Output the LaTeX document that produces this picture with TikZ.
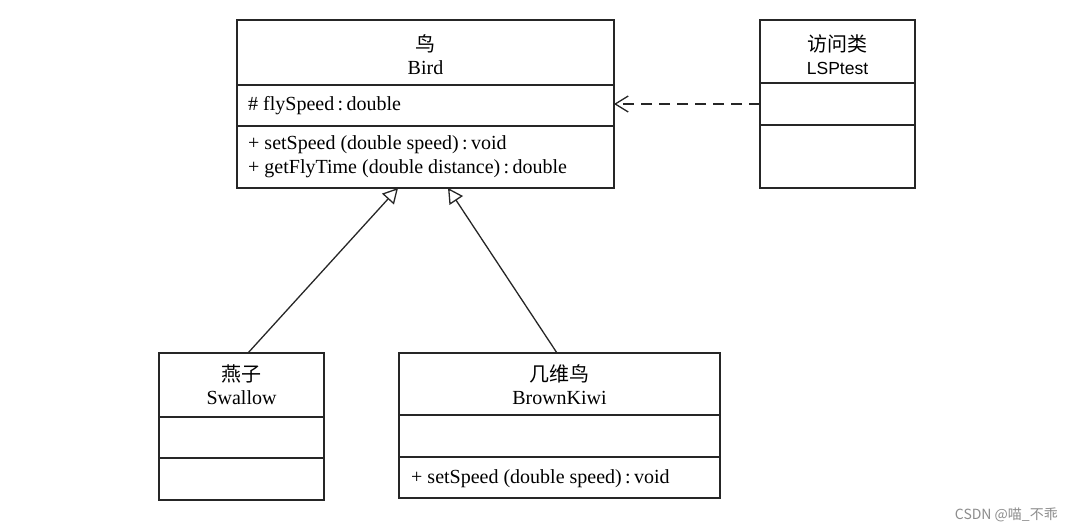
\documentclass[tikz,border=0pt]{standalone}
\usepackage{fontspec}
\setmainfont{Liberation Serif}
\newfontfamily\cjk{Noto Sans CJK SC}
\newfontfamily\arialish{Liberation Sans}
\usetikzlibrary{arrows.meta}

\tikzset{
    classbox/.style={draw=black!85, line width=1.3pt, fill=none, inner sep=0pt, outer sep=0pt, anchor=north west},
    divider/.style={draw=black!85, line width=1.3pt},
    title/.style={align=center, font=\fontsize{20}{23}\selectfont, inner sep=0pt},
    member/.style={anchor=west, font=\fontsize{20}{24}\selectfont, inner sep=0pt},
    inherit/.style={draw=black!85, line width=1.3pt, -{Triangle[open, length=15pt, width=16pt, line width=1.3pt]}},
    uses/.style={draw=black!85, line width=1.3pt, dash pattern=on 11pt off 7pt, -{Straight Barb[length=13pt, width=16pt, line width=1.3pt]}}
}

\begin{document}
\begin{tikzpicture}[x=1pt, y=-1pt]

    % Fix the page to the size of the reference
    \useasboundingbox (0,0) rectangle (1073,532);

    % The four class boxes
    \node[classbox, minimum width=377, minimum height=168] (bird) at (237,20) {};
    \node[classbox, minimum width=155, minimum height=168] (lsp) at (760,20) {};
    \node[classbox, minimum width=165, minimum height=147] (swallow) at (159,353) {};
    \node[classbox, minimum width=321, minimum height=145] (kiwi) at (399,353) {};

    % Compartment lines
    \draw[divider] (bird.west |- 0,85) -- (bird.east |- 0,85);
    \draw[divider] (bird.west |- 0,126) -- (bird.east |- 0,126);
    \draw[divider] (lsp.west |- 0,83) -- (lsp.east |- 0,83);
    \draw[divider] (lsp.west |- 0,125) -- (lsp.east |- 0,125);
    \draw[divider] (swallow.west |- 0,417) -- (swallow.east |- 0,417);
    \draw[divider] (swallow.west |- 0,458) -- (swallow.east |- 0,458);
    \draw[divider] (kiwi.west |- 0,415) -- (kiwi.east |- 0,415);
    \draw[divider] (kiwi.west |- 0,457) -- (kiwi.east |- 0,457);

    % Class names
    \node[title] (bird name) at (425.5,55) {{\cjk 鸟}\\Bird};
    \node[title] (lsp name) at (837.5,55) {{\cjk 访问类}\\{\arialish\fontsize{17.5}{23}\selectfont LSPtest}};
    \node[title] (swallow name) at (241.5,385) {{\cjk 燕子}\\Swallow};
    \node[title] (kiwi name) at (559.5,385) {{\cjk 几维鸟}\\BrownKiwi};

    % Attributes and operations
    \node[member] (bird attr) at (248,105.5) {\# flySpeed\,:\,double};
    \node[member] (bird op1) at (248,144.5) {+ setSpeed (double speed)\,:\,void};
    \node[member] (bird op2) at (248,168.5) {+ getFlyTime (double distance)\,:\,double};
    \node[member] (kiwi op) at (411,478.5) {+ setSpeed (double speed)\,:\,void};

    % Generalisation and dependency
    \draw[inherit] ([xshift=6.5]swallow.north) -- ([xshift=-27.5]bird.south);
    \draw[inherit] ([xshift=-2.5]kiwi.north) -- ([xshift=22.5]bird.south);
    \draw[uses] (lsp.west) -- (bird.east);

    % Watermark
    \node[anchor=east, text=black!45, font=\cjk\fontsize{14}{16}\selectfont, inner sep=0pt] (mark) at (1058,515) {CSDN @喵\_不乖};

\end{tikzpicture}
\end{document}
